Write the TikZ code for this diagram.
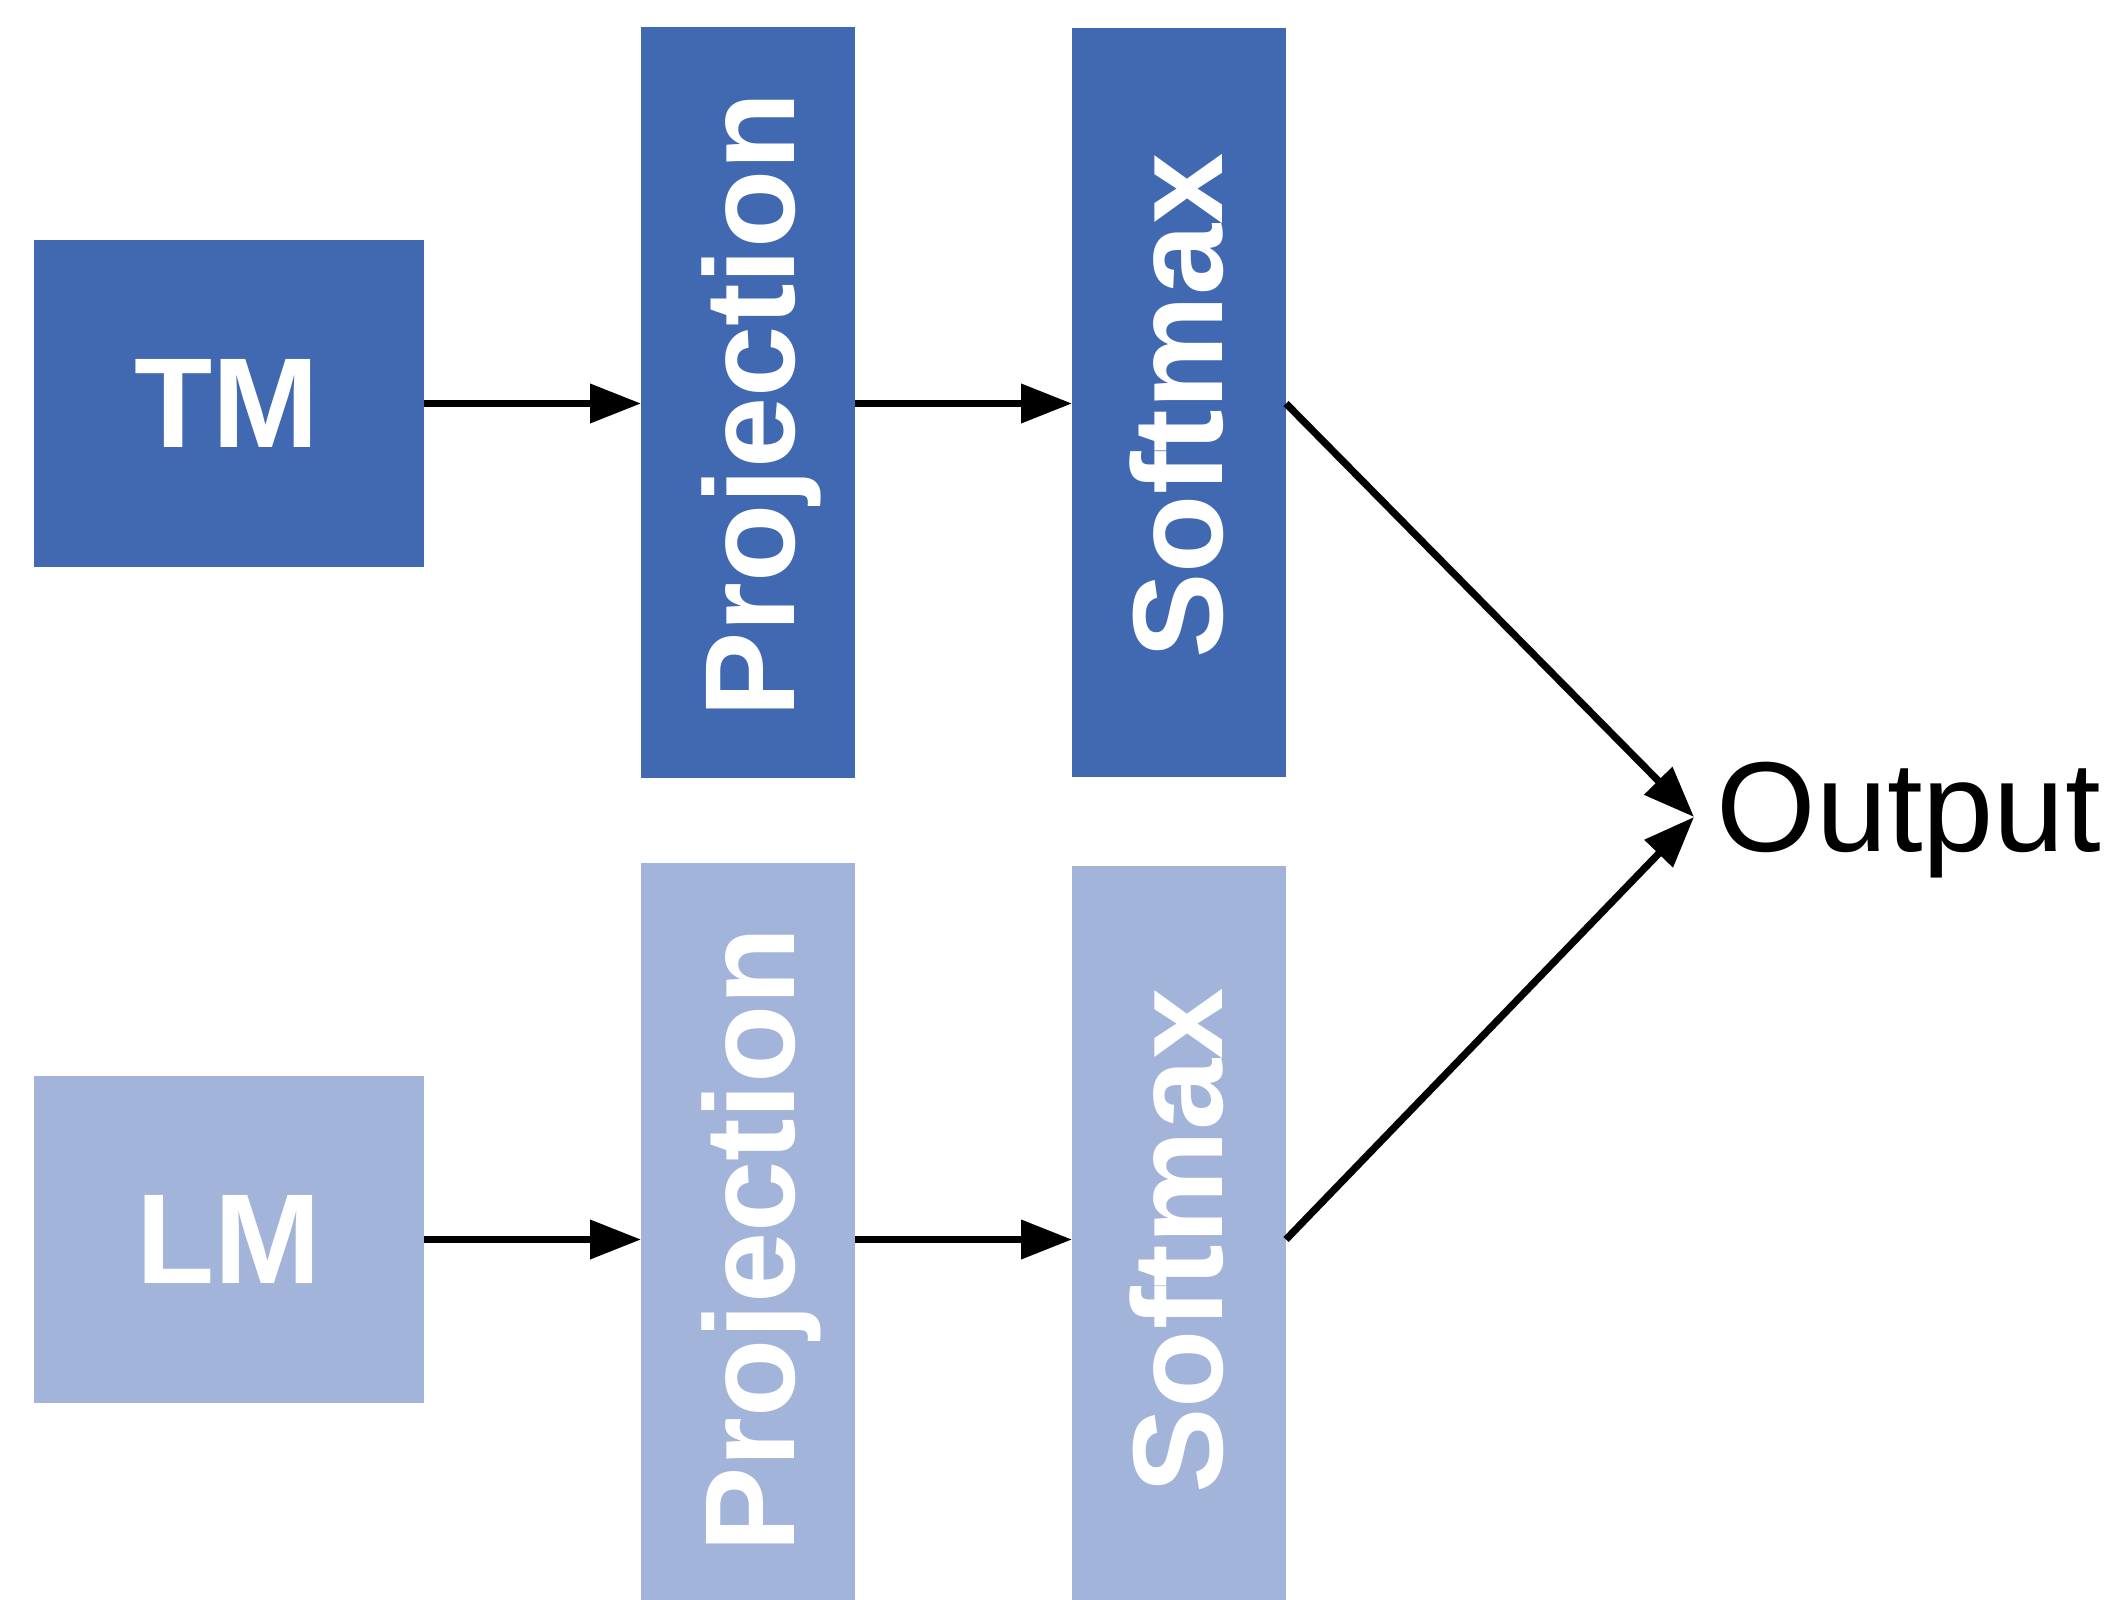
\documentclass[tikz,border=0pt]{standalone}
\usepackage{fontspec}
\setmainfont{Liberation Sans}
\usetikzlibrary{arrows.meta}
\definecolor{dk}{RGB}{65,105,178}
\definecolor{lt}{RGB}{162,180,218}
\begin{document}
\begin{tikzpicture}[x=0.5pt,y=-0.5pt,
  box/.style={rectangle,inner sep=0pt,outer sep=0pt,draw=none},
  boxtxt/.style={inner sep=0pt,text=white,font=\fontsize{64}{70}\selectfont\bfseries},
  arr/.style={line width=3.6pt,-{Triangle[length=25.5pt,width=19pt]}}]
\useasboundingbox (0,0) rectangle (2111,1600);
% boxes
\node[box,fill=dk,minimum width=195pt,minimum height=163.5pt] (TM) at (229,403.5) {};
\node[box,fill=dk,minimum width=107pt,minimum height=375.5pt] (PT) at (748,402.5) {};
\node[box,fill=dk,minimum width=107pt,minimum height=374.5pt] (ST) at (1179,402.5) {};
\node[box,fill=lt,minimum width=195pt,minimum height=163.5pt] (LM) at (229,1239.5) {};
\node[box,fill=lt,minimum width=107pt,minimum height=368.5pt] (PB) at (748,1231.5) {};
\node[box,fill=lt,minimum width=107pt,minimum height=367pt] (SB) at (1179,1233) {};
% texts
\node[boxtxt] (tmt) at (227,403.5) {TM};
\node[boxtxt] (lmt) at (229,1239.5) {LM};
\node[boxtxt,rotate=90] (ptt) at (761,405) {Projection};
\node[boxtxt,rotate=90] (stt) at (1177,406) {Softmax};
\node[boxtxt,rotate=90] (pbt) at (761,1240) {Projection};
\node[boxtxt,rotate=90] (sbt) at (1177,1241) {Softmax};
\node[inner sep=0pt,anchor=base west,font=\fontsize{64}{70}\selectfont] (out) at (1716,851) {Output};
\coordinate (tip) at (1694,817);
% connectors
\draw[arr] (TM.east) -- (TM.east -| PT.west);
\draw[arr] (TM.east -| PT.east) -- (TM.east -| ST.west);
\draw[arr] (LM.east) -- (LM.east -| PB.west);
\draw[arr] (LM.east -| PB.east) -- (LM.east -| SB.west);
\draw[arr] (TM.east -| ST.east) -- (tip);
\draw[arr] (LM.east -| SB.east) -- (tip);
\end{tikzpicture}
\end{document}
